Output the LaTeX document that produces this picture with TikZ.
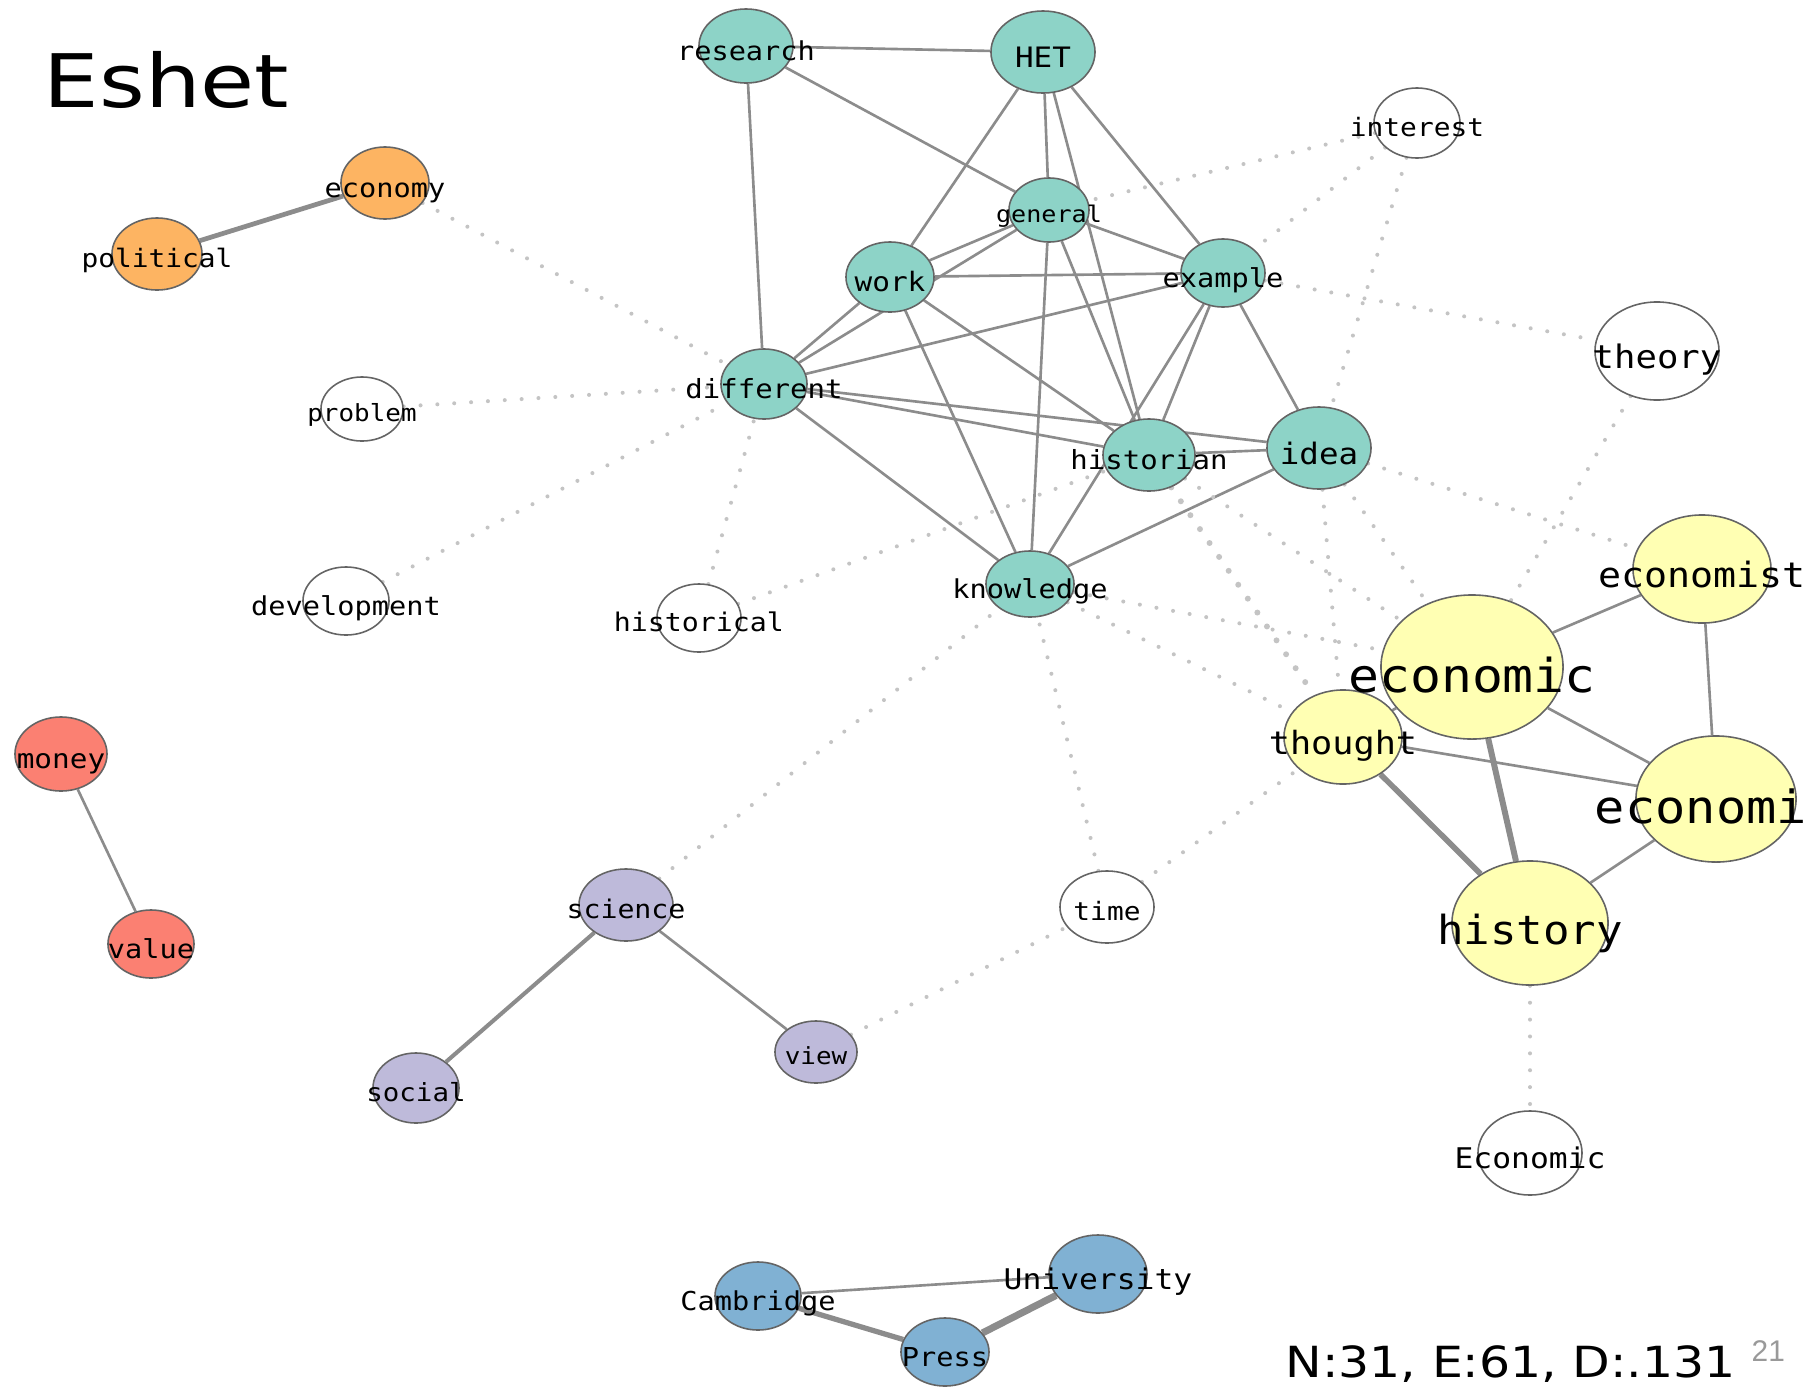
\documentclass[tikz,border=0pt]{standalone}
\usepackage{fontspec}
\usepackage{xcolor}
\usetikzlibrary{shapes.geometric}

\newfontfamily\lblfont[FakeStretch=1.1]{DejaVu Sans Mono}
\newfontfamily\titlefont[FakeStretch=1.19]{DejaVu Sans}
\newfontfamily\statfont[FakeStretch=1.14]{DejaVu Sans}
\newfontfamily\pagefont{Liberation Sans}

\definecolor{cteal}{HTML}{8DD3C7}
\definecolor{cyellow}{HTML}{FFFFB3}
\definecolor{corange}{HTML}{FDB462}
\definecolor{cred}{HTML}{FB8072}
\definecolor{cpurple}{HTML}{BEBADA}
\definecolor{cblue}{HTML}{80B1D3}
\definecolor{nodeline}{HTML}{646464}
\definecolor{tiegray}{HTML}{8C8C8C}
\definecolor{dotgray}{HTML}{C4C4C4}
\definecolor{pagegray}{HTML}{999999}

\pgfdeclarelayer{bg}
\pgfsetlayers{bg,main}

\begin{document}
\begin{tikzpicture}[
  x=0.01cm, y=-0.01cm,
  word/.style={ellipse, draw=nodeline, line width=0.45pt, inner sep=0pt},
  sz/.style 2 args={minimum width=#1cm, minimum height=#2cm},
  wteal/.style={word, fill=cteal},
  wyellow/.style={word, fill=cyellow},
  worange/.style={word, fill=corange},
  wred/.style={word, fill=cred},
  wpurple/.style={word, fill=cpurple},
  wblue/.style={word, fill=cblue},
  wplain/.style={word, fill=white},
  lbl/.style={font=\lblfont\fontsize{#1}{#1}\selectfont, inner sep=0pt,
    text height={1.086*#1pt}, text depth=0pt},
  tie/.style={draw=tiegray, line width=0.75pt},
  bridge/.style={draw=dotgray, line width=1.15pt, line cap=round, dash pattern=on 0pt off 4.8pt}
]
  \useasboundingbox (0,0) rectangle (1808,1390);

  % Title
  \node[anchor=base west, inner sep=0pt, font=\titlefont\fontsize{21}{21}\selectfont] (title) at (43,107) {Eshet};

  % Orange group
  \node[worange, sz={0.88}{0.72}, label={[lbl=7.4]center:economy}] (economy) at (385,183) {};
  \node[worange, sz={0.90}{0.72}, label={[lbl=7.2]center:political}] (political) at (157,254) {};

  % Teal group
  \node[wteal, sz={0.94}{0.74}, label={[lbl=7.4]center:research}] (research) at (746,46) {};
  \node[wteal, sz={1.04}{0.82}, label={[lbl=8.0]center:HET}] (HET) at (1043,52) {};
  \node[wteal, sz={0.80}{0.64}, label={[lbl=6.5]center:general}] (general) at (1049,210) {};
  \node[wteal, sz={0.88}{0.70}, label={[lbl=7.6]center:work}] (work) at (890,277) {};
  \node[wteal, sz={0.84}{0.68}, label={[lbl=7.4]center:example}] (example) at (1223,273) {};
  \node[wteal, sz={0.86}{0.70}, label={[lbl=7.5]center:different}] (different) at (764,384) {};
  \node[wteal, sz={0.92}{0.72}, label={[lbl=7.5]center:historian}] (historian) at (1149,455) {};
  \node[wteal, sz={1.04}{0.82}, label={[lbl=8.4]center:idea}] (idea) at (1319,448) {};
  \node[wteal, sz={0.88}{0.66}, label={[lbl=7.4]center:knowledge}] (knowledge) at (1030,584) {};

  % Single words
  \node[wplain, sz={0.86}{0.70}, label={[lbl=7.2]center:interest}] (interest) at (1417,123) {};
  \node[wplain, sz={1.24}{0.98}, label={[lbl=9.2]center:theory}] (theory) at (1657,351) {};
  \node[wplain, sz={0.82}{0.64}, label={[lbl=6.7]center:problem}] (problem) at (362,409) {};
  \node[wplain, sz={0.86}{0.68}, label={[lbl=7.4]center:development}] (development) at (346,601) {};
  \node[wplain, sz={0.84}{0.68}, label={[lbl=7.3]center:historical}] (historical) at (699,618) {};
  \node[wplain, sz={0.94}{0.72}, label={[lbl=7.2]center:time}] (time) at (1107,907) {};
  \node[wplain, sz={1.04}{0.84}, label={[lbl=8.1]center:Economic}] (Economic) at (1530,1153) {};

  % Yellow group
  \node[wyellow, sz={1.18}{0.94}, label={[lbl=9.1]center:thought}] (thought) at (1343,737) {};
  \node[wyellow, sz={1.38}{1.08}, label={[lbl=9.9]center:economist}] (economist) at (1702,569) {};
  \node[wyellow, sz={1.82}{1.44}, label={[lbl=13.3]center:economic}] (economic) at (1472,667) {};
  \node[wyellow, sz={1.60}{1.26}, label={[lbl=13.0]center:economic}] (economicB) at (1716,799) {};
  \node[wyellow, sz={1.56}{1.24}, label={[lbl=11.4]center:history}] (history) at (1530,923) {};

  % Red group
  \node[wred, sz={0.92}{0.74}, label={[lbl=7.6]center:money}] (money) at (61,754) {};
  \node[wred, sz={0.86}{0.68}, label={[lbl=7.4]center:value}] (value) at (151,944) {};

  % Purple group
  \node[wpurple, sz={0.94}{0.72}, label={[lbl=7.3]center:science}] (science) at (626,905) {};
  \node[wpurple, sz={0.82}{0.62}, label={[lbl=6.7]center:view}] (view) at (816,1052) {};
  \node[wpurple, sz={0.86}{0.70}, label={[lbl=7.1]center:social}] (social) at (416,1088) {};

  % Blue group
  \node[wblue, sz={0.86}{0.68}, label={[lbl=7.4]center:Cambridge}] (Cambridge) at (758,1296) {};
  \node[wblue, sz={0.98}{0.78}, label={[lbl=8.1]center:University}] (University) at (1098,1274) {};
  \node[wblue, sz={0.88}{0.68}, label={[lbl=7.4]center:Press}] (Press) at (945,1352) {};

  % Footer
  \node[anchor=base west, inner sep=0pt, font=\statfont\fontsize{12.2}{12.2}\selectfont] (stats) at (1285,1377) {N:31, E:61, D:.131};
  \node[anchor=base west, inner sep=0pt, font=\pagefont\fontsize{8.5}{8.5}\selectfont, text=pagegray] (pageno) at (1751,1361) {21};

  \begin{pgfonlayer}{bg}
    % Ties inside groups
    \draw[tie, line width=1.35pt] (political) -- (economy);
    \draw[tie] (research) -- (HET);
    \draw[tie] (research) -- (general);
    \draw[tie] (research) -- (different);
    \draw[tie] (HET) -- (work);
    \draw[tie] (HET) -- (general);
    \draw[tie] (HET) -- (historian);
    \draw[tie] (HET) -- (example);
    \draw[tie] (general) -- (work);
    \draw[tie] (general) -- (example);
    \draw[tie] (general) -- (knowledge);
    \draw[tie] (general) -- (historian);
    \draw[tie] (work) -- (example);
    \draw[tie] (work) -- (different);
    \draw[tie] (work) -- (knowledge);
    \draw[tie] (work) -- (historian);
    \draw[tie] (different) -- (general);
    \draw[tie] (different) -- (example);
    \draw[tie] (different) -- (historian);
    \draw[tie] (different) -- (idea);
    \draw[tie] (different) -- (knowledge);
    \draw[tie] (example) -- (historian);
    \draw[tie] (example) -- (knowledge);
    \draw[tie] (example) -- (idea);
    \draw[tie] (historian) -- (idea);
    \draw[tie] (idea) -- (knowledge);
    \draw[tie] (economic) -- (economist);
    \draw[tie] (economic) -- (economicB);
    \draw[tie, line width=1.7pt] (economic) -- (history);
    \draw[tie] (thought) -- (economic);
    \draw[tie] (economist) -- (economicB);
    \draw[tie] (thought) -- (economicB);
    \draw[tie, line width=1.6pt] (thought) -- (history);
    \draw[tie] (history) -- (economicB);
    \draw[tie] (money) -- (value);
    \draw[tie, line width=1.15pt] (science) -- (social);
    \draw[tie] (science) -- (view);
    \draw[tie] (Cambridge) -- (University);
    \draw[tie, line width=1.5pt] (Cambridge) -- (Press);
    \draw[tie, line width=2pt] (Press) -- (University);

    % Bridges between groups
    \draw[bridge] (economy) -- (different);
    \draw[bridge] (problem) -- (different);
    \draw[bridge] (development) -- (different);
    \draw[bridge] (historical) -- (different);
    \draw[bridge] (historical) -- (historian);
    \draw[bridge] (interest) -- (general);
    \draw[bridge] (interest) -- (example);
    \draw[bridge] (interest) -- (idea);
    \draw[bridge] (example) -- (theory);
    \draw[bridge] (theory) -- (economic);
    \draw[bridge] (science) -- (knowledge);
    \draw[bridge] (time) -- (knowledge);
    \draw[bridge] (time) -- (thought);
    \draw[bridge] (view) -- (time);
    \draw[bridge] (knowledge) -- (economic);
    \draw[bridge] (knowledge) -- (thought);
    \draw[bridge, line width=1.7pt] (historian) -- (thought);
    \draw[bridge] (historian) -- (economic);
    \draw[bridge] (idea) -- (thought);
    \draw[bridge] (idea) -- (economic);
    \draw[bridge] (idea) -- (economist);
    \draw[bridge] (history) -- (Economic);
  \end{pgfonlayer}

\end{tikzpicture}
\end{document}
